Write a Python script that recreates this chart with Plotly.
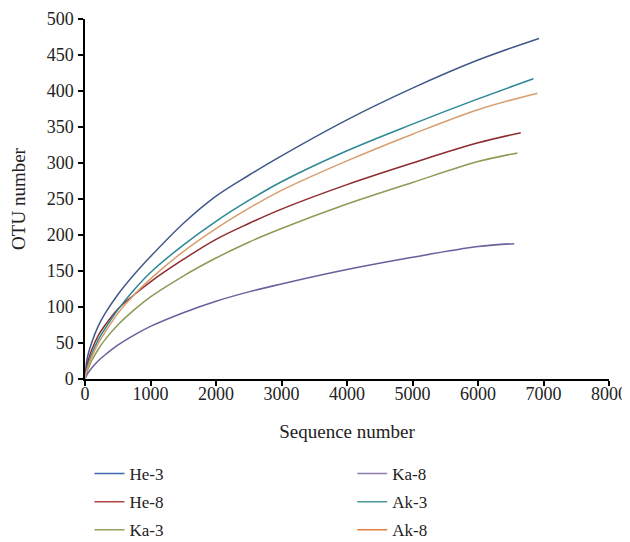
import plotly.graph_objects as go

# Rarefaction data (sequence number vs OTU number)
seq_x = [0, 25, 50, 100, 200, 300, 500, 750, 1000, 1500, 2000, 2500, 3000, 4000, 5000, 6000]

he3_y = [0, 24, 35, 50, 73, 90, 117, 145, 170, 216, 254, 283, 310, 360, 404, 443]
he3_end = (6931, 473)

he8_y = [0, 17, 26, 40, 60, 74, 97, 117, 135, 166, 194, 216, 236, 270, 300, 328]
he8_end = (6653, 342)

ka3_y = [0, 9, 15, 25, 41, 54, 75, 96, 114, 143, 168, 190, 209, 243, 273, 302]
ka3_end = (6603, 314)

ka8_y = [0, 5, 9, 15, 25, 33, 47, 61, 73, 92, 108, 121, 132, 152, 169, 184]
ka8_end = (6553, 188)

ak3_y = [0, 13, 21, 34, 54, 69, 96, 124, 148, 186, 219, 248, 274, 317, 354, 389]
ak3_end = (6845, 417)

ak8_y = [0, 11, 18, 30, 49, 64, 91, 117, 139, 177, 209, 237, 262, 303, 340, 374]
ak8_end = (6906, 397)

names = ["He-3", "He-8", "Ka-3", "Ka-8", "Ak-3", "Ak-8"]
series = [(he3_y, he3_end), (he8_y, he8_end), (ka3_y, ka3_end),
          (ka8_y, ka8_end), (ak3_y, ak3_end), (ak8_y, ak8_end)]
curve_colors = ["#41598A", "#8E2B2D", "#8A9B55", "#6F5E9C", "#2C8796", "#D89E6E"]
legend_colors = ["#3E69B0", "#B04442", "#92A35A", "#8E7DB2", "#4C9A98", "#E07E3C"]

FONT = "Liberation Serif"
TXT = "#222222"

fig = go.Figure()
for (ys, end), c in zip(series, curve_colors):
    xs = seq_x + [end[0]]
    yv = ys + [end[1]]
    fig.add_trace(go.Scatter(x=xs, y=yv, mode="lines", showlegend=False,
                             line=dict(color=c, width=1.5, shape="spline", smoothing=1.0),
                             hoverinfo="skip"))

for i, (n, c) in enumerate(zip(names, legend_colors)):
    fig.add_trace(go.Scatter(x=[None], y=[None], mode="lines", name=n,
                             line=dict(color=c, width=1.5),
                             legend="legend" if i < 3 else "legend2",
                             legendgroup=n))

legend_common = dict(font=dict(family=FONT, size=17, color=TXT),
                     bgcolor="rgba(0,0,0,0)", tracegroupgap=3,
                     yanchor="top", xanchor="left", itemwidth=30)

# page body has an 8px default margin, so the figure is 8px smaller than the window
fig.update_layout(
    width=622, height=534,
    margin=dict(l=77, r=21, t=11, b=163, autoexpand=False),
    paper_bgcolor="white", plot_bgcolor="white",
    font=dict(family=FONT, size=17, color=TXT),
    showlegend=True,
    legend=dict(x=0.0085, y=-0.214, **legend_common),
    legend2=dict(x=0.51, y=-0.214, **legend_common),
    xaxis=dict(range=[0, 8000], tickvals=[0, 1000, 2000, 3000, 4000, 5000, 6000, 7000, 8000],
               automargin=False, tickangle=0,
               showgrid=False, zeroline=False, showline=True, linecolor="black", linewidth=1.5,
               ticks="outside", ticklen=5, tickcolor="black", tickwidth=1.5,
               ticklabelstandoff=-7,
               tickfont=dict(family=FONT, size=18, color=TXT),
               title=dict(text="Sequence number", font=dict(family=FONT, size=19, color=TXT), standoff=21)),
    yaxis=dict(range=[0, 500], tickvals=[0, 50, 100, 150, 200, 250, 300, 350, 400, 450, 500],
               automargin=False,
               showgrid=False, zeroline=False, showline=True, linecolor="black", linewidth=1.5,
               ticks="outside", ticklen=5, tickcolor="black", tickwidth=1.5,
               ticklabelstandoff=1,
               tickfont=dict(family=FONT, size=18, color=TXT),
               title=dict(text="OTU number", font=dict(family=FONT, size=19, color=TXT), standoff=18)),
)

fig.write_html("out.html")
